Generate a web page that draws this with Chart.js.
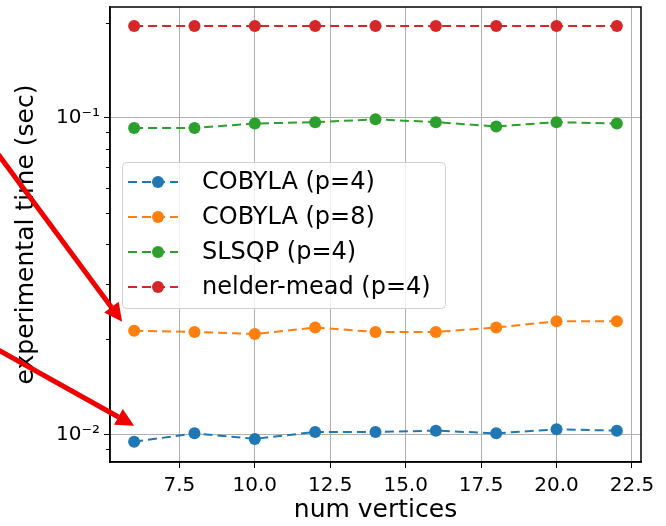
<!DOCTYPE html>
<html>
<head>
<meta charset="utf-8">
<script src="https://cdn.jsdelivr.net/npm/chart.js@4.4.1/dist/chart.umd.min.js"></script>
<style>
  body { margin: 0; background: #fff; }
  #wrap { width: 666px; height: 526px; }
</style>
</head>
<body>
<div id="wrap"><canvas id="myChart" width="666" height="526"></canvas></div>
<script>
// data
const vertices = [6, 8, 10, 12, 14, 16, 18, 20, 22];
const cobyla4 = [0.0095, 0.0101, 0.0097, 0.0102, 0.0102, 0.0103, 0.0101, 0.0104, 0.0103];
const cobyla8 = [0.0213, 0.0211, 0.0208, 0.0218, 0.0211, 0.0211, 0.0218, 0.0228, 0.0228];
const slsqp4 = [0.093, 0.093, 0.096, 0.097, 0.099, 0.097, 0.094, 0.097, 0.096];
const nelder4 = [0.195, 0.195, 0.195, 0.195, 0.195, 0.195, 0.195, 0.195, 0.195];

const seriesNames = ['COBYLA (p=4)', 'COBYLA (p=8)', 'SLSQP (p=4)', 'nelder-mead (p=4)'];
const seriesColors = ['#1f77b4', '#ff7f0e', '#2ca02c', '#d62728'];

const xTicks = [7.5, 10.0, 12.5, 15.0, 17.5, 20.0, 22.5];
const yMajor = [0.01, 0.1];
const yMinor = [0.009, 0.02, 0.03, 0.04, 0.05, 0.06, 0.07, 0.08, 0.09, 0.2];
const yLabels = {0.01: '10\u207B\u00B2', 0.1: '10\u207B\u00B9'};

const FONT = 'DejaVu Sans';

let allSeries = [cobyla4, cobyla8, slsqp4, nelder4];
let datasets = allSeries.map((vals, i) => {
    return {
        label: seriesNames[i],
        data: vals.map((v, j) => ({x: vertices[j], y: v})),
        borderColor: seriesColors[i],
        backgroundColor: seriesColors[i],
        borderWidth: 2,
        borderDash: [9, 5],
        pointRadius: 6,
        pointBorderWidth: 0,
        pointHoverRadius: 6,
        tension: 0
    };
});

// frame, minor ticks, legend inside the plot and the red arrows
const extras = {
    id: 'extras',
    afterDraw(chart) {
        const ctx = chart.ctx;
        const a = chart.chartArea;
        const xs = chart.scales.x;
        const ys = chart.scales.y;
        ctx.save();

        // minor ticks on the log axis
        ctx.strokeStyle = '#000';
        ctx.lineWidth = 1;
        yMinor.forEach(v => {
            let py = Math.round(ys.getPixelForValue(v)) + 0.5;
            ctx.beginPath();
            ctx.moveTo(a.left - 4, py);
            ctx.lineTo(a.left, py);
            ctx.stroke();
        });

        // box around the plot
        ctx.lineWidth = 1.5;
        ctx.strokeRect(a.left, a.top, a.right - a.left, a.bottom - a.top);

        // legend
        let lx = a.left + 12, ly = 162, lw = 323, lh = 146;
        ctx.fillStyle = 'rgba(255,255,255,0.8)';
        ctx.strokeStyle = 'rgba(204,204,204,0.9)';
        ctx.lineWidth = 1;
        ctx.beginPath();
        ctx.roundRect(lx + 0.5, ly + 0.5, lw, lh, 4);
        ctx.fill();
        ctx.stroke();
        ctx.font = '24px "' + FONT + '"';
        ctx.textBaseline = 'middle';
        chart.data.datasets.forEach((ds, i) => {
            let ry = ly + 20 + i * 35;
            ctx.strokeStyle = ds.borderColor;
            ctx.lineWidth = 2;
            ctx.setLineDash([9, 5]);
            ctx.beginPath();
            ctx.moveTo(lx + 6, ry);
            ctx.lineTo(lx + 56, ry);
            ctx.stroke();
            ctx.setLineDash([]);
            ctx.fillStyle = ds.backgroundColor;
            ctx.beginPath();
            ctx.arc(lx + 36, ry, 6, 0, Math.PI * 2);
            ctx.fill();
            ctx.fillStyle = '#000';
            ctx.fillText(ds.label, lx + 80, ry + 1);
        });

        // red arrows pointing at the first orange and blue points
        const arrow = (x0, y0, x1, y1) => {
            let ang = Math.atan2(y1 - y0, x1 - x0);
            let hl = 18, hw = 9;
            let bx = x1 - hl * Math.cos(ang), by = y1 - hl * Math.sin(ang);
            ctx.strokeStyle = '#f00000';
            ctx.fillStyle = '#f00000';
            ctx.lineWidth = 5;
            ctx.beginPath();
            ctx.moveTo(x0, y0);
            ctx.lineTo(bx, by);
            ctx.stroke();
            ctx.beginPath();
            ctx.moveTo(x1, y1);
            ctx.lineTo(bx + hw * Math.sin(ang), by - hw * Math.cos(ang));
            ctx.lineTo(bx - hw * Math.sin(ang), by + hw * Math.cos(ang));
            ctx.closePath();
            ctx.fill();
        };
        let px = xs.getPixelForValue(vertices[0]);
        arrow(-5, 150, px - 12, ys.getPixelForValue(cobyla8[0]) - 9);
        arrow(-5, 348, px, ys.getPixelForValue(cobyla4[0]) - 16);

        ctx.restore();
    }
};

const myChart = document.getElementById('myChart');

let lineChart = new Chart(myChart, {
    type: 'line',
    data: { datasets: datasets },
    options: {
        responsive: false,
        animation: false,
        layout: { padding: { top: 7, right: 25, left: 0, bottom: 0 } },
        plugins: {
            legend: { display: false },
            tooltip: { enabled: false }
        },
        scales: {
            x: {
                type: 'linear',
                min: 5.2,
                max: 22.8,
                afterBuildTicks: scale => { scale.ticks = xTicks.map(v => ({value: v})); },
                afterFit: scale => {
                    scale.height = 64;
                    scale.paddingLeft = 0;
                    scale.paddingRight = 0;
                },
                ticks: {
                    autoSkip: false,
                    maxRotation: 0,
                    padding: 6,
                    color: '#000',
                    font: { family: FONT, size: 20 },
                    callback: v => v.toFixed(1)
                },
                grid: { color: '#b0b0b0', lineWidth: 1, tickColor: '#000', tickLength: 6 },
                border: { display: true, color: '#000', width: 1.5 },
                title: {
                    display: true,
                    text: 'num vertices',
                    color: '#000',
                    font: { family: FONT, size: 25 },
                    padding: { top: 0, bottom: 1 }
                }
            },
            y: {
                type: 'logarithmic',
                min: 0.0082,
                max: 0.224,
                afterBuildTicks: scale => {
                    scale.ticks = yMajor.concat(yMinor).sort((p, q) => p - q).map(v => ({value: v}));
                },
                afterFit: scale => {
                    scale.width = 110;
                    scale.paddingTop = 0;
                    scale.paddingBottom = 0;
                },
                ticks: {
                    autoSkip: false,
                    padding: 4,
                    color: '#000',
                    font: { family: FONT, size: 20 },
                    callback: v => yLabels[v] || ''
                },
                grid: {
                    color: c => yMajor.includes(c.tick.value) ? '#b0b0b0' : 'rgba(0,0,0,0)',
                    tickColor: c => yMajor.includes(c.tick.value) ? '#000' : 'rgba(0,0,0,0)',
                    lineWidth: 1,
                    tickLength: 6
                },
                border: { display: true, color: '#000', width: 1.5 },
                title: {
                    display: true,
                    text: 'experimental time (sec)',
                    color: '#000',
                    font: { family: FONT, size: 25 },
                    padding: { top: 11, bottom: 0 }
                }
            }
        }
    },
    plugins: [extras]
});
</script>
</body>
</html>
